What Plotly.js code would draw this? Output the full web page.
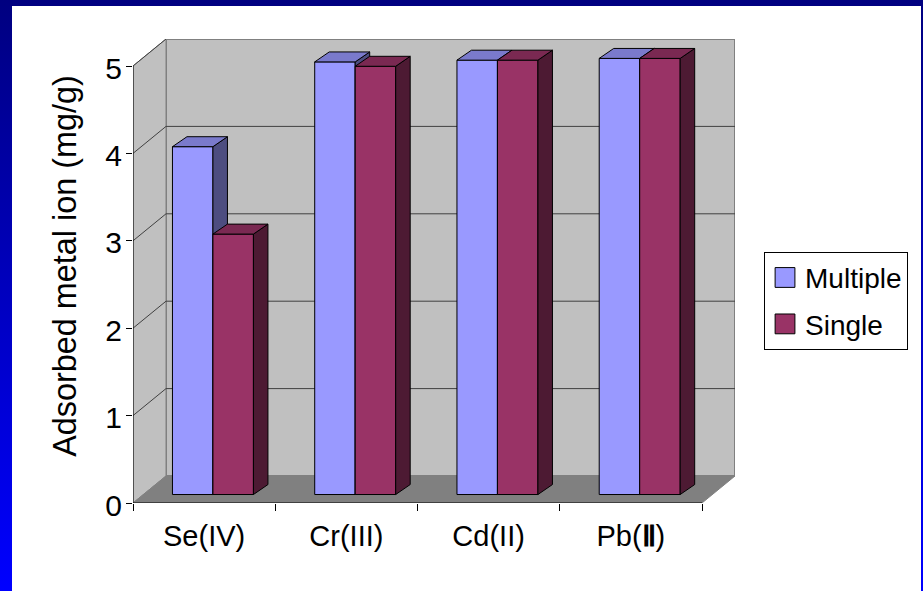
<!DOCTYPE html>
<html>
<head>
<meta charset="utf-8">
<script src="https://cdn.plot.ly/plotly-3.0.1.min.js"></script>
<style>
  html, body { margin: 0; height: 100%; overflow: hidden; }
  body { background: linear-gradient(to bottom, #000080, #0000ff); }
  #chart { position: absolute; left: 12px; top: 6px; width: 909px; height: 585px; background: #fff; }
</style>
</head>
<body>
<div id="chart"></div>
<script>
// Adsorption values per metal ion
const categories = ['Se(IV)', 'Cr(III)', 'Cd(II)', 'Pb(<b>Ⅱ</b>)'];
const multiple = [3.98, 4.95, 4.97, 4.99];
const single = [2.98, 4.90, 4.97, 4.99];
const yTicks = [0, 1, 2, 3, 4, 5];

// Pseudo-3D projection, in axis units
const wallDX = 0.232, wallDY = 0.309;   // depth of the chart box
const barDX = 0.102, barDY = 0.114;     // depth of one bar
const planeDX = 0.062, planeDY = 0.097; // bars stand inside the box
const barW = 0.2846;
const xMax = 4 + wallDX, yMax = 5 + wallDY;
const font = '"Liberation Sans", Arial, sans-serif';

function faces(values, offset) {
  // offset places the bar to the left (-1) or right (0) of the group centre
  const side = { x: [], y: [] }, top = { x: [], y: [] };
  values.forEach((v, i) => {
    const x0 = i + 0.5 + planeDX + offset * barW, x1 = x0 + barW;
    const y0 = planeDY, y1 = planeDY + v;
    side.x.push(x1, x1 + barDX, x1 + barDX, x1, x1, null);
    side.y.push(y0, y0 + barDY, y1 + barDY, y1, y0, null);
    top.x.push(x0, x0 + barDX, x1 + barDX, x1, x0, null);
    top.y.push(y1, y1 + barDY, y1 + barDY, y1, y1, null);
  });
  return { side, top };
}

function seriesTraces(name, values, offset, colors, xa, ya, group) {
  const f = faces(values, offset);
  const poly = (p, fill) => ({
    type: 'scatter', mode: 'lines', x: p.x, y: p.y, xaxis: xa, yaxis: ya,
    fill: 'toself', fillcolor: fill, line: { color: '#000', width: 1 },
    showlegend: false, hoverinfo: 'skip'
  });
  return [
    {
      type: 'bar', name, legendgroup: group, xaxis: xa, yaxis: ya,
      x: values.map((_, i) => i + 0.5 + planeDX + (offset + 0.5) * barW),
      y: values, base: values.map(() => planeDY), width: barW,
      marker: { color: colors.front, line: { color: '#000', width: 1 } }
    },
    poly(f.side, colors.side),
    poly(f.top, colors.top)
  ];
}

const gridShapes = [];
const line = (x0, y0, x1, y1, color, width) => ({
  type: 'line', xref: 'x', yref: 'y', x0, y0, x1, y1, layer: 'below', line: { color, width }
});
const poly = (pts, fill, color, width) => ({
  type: 'path', xref: 'x', yref: 'y', layer: 'below', fillcolor: fill,
  path: 'M' + pts.map(p => p.join(',')).join('L') + 'Z', line: { color, width }
});
// Back wall, side wall and floor
gridShapes.push(poly([[wallDX, wallDY], [xMax, wallDY], [xMax, yMax], [wallDX, yMax]], '#c0c0c0', '#808080', 2));
gridShapes.push(poly([[0, 0], [wallDX, wallDY], [wallDX, yMax], [0, 5]], '#c0c0c0', '#808080', 1));
gridShapes.push(poly([[0, 0], [wallDX, wallDY], [xMax, wallDY], [4, 0]], '#808080', '#808080', 1));
yTicks.slice(1).forEach(v => {
  if (v < 5) gridShapes.push(line(wallDX, v + wallDY, xMax, v + wallDY, '#404040', 1));
  gridShapes.push(line(0, v, wallDX, v + wallDY, '#404040', 1));
});
// Axis lines stop at the front edge of the box
gridShapes.push(line(0, 0, 0, 5, '#000', 1));
gridShapes.push(line(0, 0, 4, 0, '#000', 1));

const traces = [
  ...seriesTraces('Multiple', multiple, -1, { front: '#9999ff', side: '#4d4d80', top: '#7a7acc' }, 'x', 'y', 'a'),
  ...seriesTraces('Single', single, 0, { front: '#993366', side: '#4d1a33', top: '#7a2952' }, 'x2', 'y2', 'b')
];

const layout = {
  width: 909, height: 585,
  margin: { l: 121, r: 186, t: 33, b: 87.5 },
  paper_bgcolor: '#fff', plot_bgcolor: 'rgba(0,0,0,0)',
  font: { family: font, color: '#000' },
  barmode: 'overlay', hovermode: false,
  shapes: gridShapes,
  xaxis: {
    range: [0, xMax], tickmode: 'array',
    tickvals: categories.map((_, i) => i + 0.5), ticktext: categories,
    ticks: '', tickfont: { size: 29 }, showgrid: false, showline: false, zeroline: false,
    ticklabelstandoff: 13, fixedrange: true
  },
  xaxis2: {
    range: [0, xMax], overlaying: 'x', side: 'bottom', anchor: 'y2', tickmode: 'array',
    tickvals: [0, 1, 2, 3, 4], ticks: 'outside', ticklen: 7, tickcolor: '#000', tickwidth: 1,
    showticklabels: false, showgrid: false, showline: false, zeroline: false, fixedrange: true
  },
  yaxis: {
    range: [0, yMax], tickmode: 'array', tickvals: yTicks, ticks: 'outside', ticklen: 6,
    tickcolor: '#000', tickwidth: 1, tickfont: { size: 30 }, showgrid: false, showline: false,
    zeroline: false, fixedrange: true, ticklabelshift: 2, ticklabelstandoff: -2,
    title: { text: 'Adsorbed metal ion (mg/g)', font: { size: 32.4 }, standoff: 18 }
  },
  yaxis2: {
    range: [0, yMax], overlaying: 'y', anchor: 'x2', visible: false, fixedrange: true
  },
  legend: {
    x: 1.0482, xanchor: 'left', y: 0.5414, yanchor: 'top',
    bgcolor: '#fff', bordercolor: '#000', borderwidth: 1,
    font: { size: 28 }, tracegroupgap: 7, traceorder: 'grouped'
  }
};

Plotly.newPlot('chart', traces, layout, { displayModeBar: false, staticPlot: true }).then(gd => {
  // Larger legend swatches
  gd.querySelectorAll('.legendpoints path').forEach(p => {
    const t = p.getAttribute('transform') || '';
    p.setAttribute('transform', t + ' scale(1.65)');
    p.style.vectorEffect = 'non-scaling-stroke';
  });
  // Sit the axis title slightly above the centre of the box
  const title = gd.querySelector('.ytitle');
  if (title) title.setAttribute('transform', 'translate(0,-5) ' + (title.getAttribute('transform') || ''));
});
</script>
</body>
</html>
